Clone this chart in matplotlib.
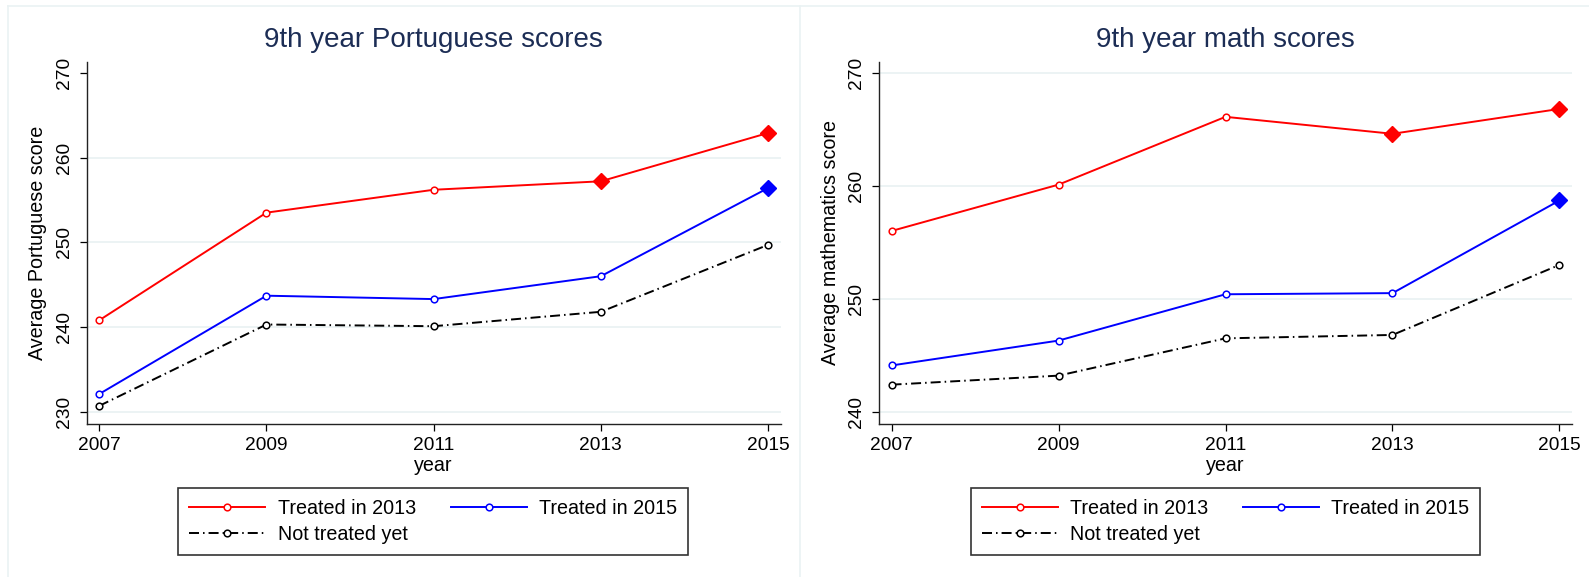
import matplotlib
matplotlib.use("Agg")
import matplotlib.pyplot as plt
from matplotlib.lines import Line2D
import numpy as np

plt.rcParams['font.family'] = ['Liberation Sans', 'DejaVu Sans']
plt.rcParams['lines.scale_dashes'] = False

# ---- data -------------------------------------------------------------
years = [2007, 2009, 2011, 2013, 2015]

port_treated_2013 = [240.8, 253.5, 256.2, 257.2, 262.9]
port_treated_2015 = [232.1, 243.7, 243.3, 246.0, 256.4]
port_not_treated = [230.7, 240.3, 240.1, 241.8, 249.7]

math_treated_2013 = [256.0, 260.1, 266.1, 264.6, 266.8]
math_treated_2015 = [244.1, 246.3, 250.4, 250.5, 258.7]
math_not_treated = [242.4, 243.2, 246.5, 246.8, 253.0]

treatment_year_a = 2013
treatment_year_b = 2015

series_labels = ["Treated in 2013", "Treated in 2015", "Not treated yet"]
panel_titles = ["9th year Portuguese scores", "9th year math scores"]
y_labels = ["Average Portuguese score", "Average mathematics score"]
port_yticks = [230, 240, 250, 260, 270]
math_yticks = [240, 250, 260, 270]

# ---- styling -----------------------------------------------------------
W, H = 1589, 577
TITLE_COLOR = "#1C2D55"
GRID_COLOR = "#EAF2F3"
DASHDOT = (0, (7.2, 2.9, 1.1, 2.9))

fig = plt.figure(figsize=(W / 100, H / 100), dpi=100)
fig.patch.set_facecolor("white")

# faint panel frames
for x in (8, 800):
    fig.add_artist(Line2D([x / W, x / W], [0, 1 - 6 / H], transform=fig.transFigure,
                          color=GRID_COLOR, lw=1.2))
fig.add_artist(Line2D([8 / W, 1], [1 - 6 / H, 1 - 6 / H], transform=fig.transFigure,
                      color=GRID_COLOR, lw=1.2))


def px_axes(x0, x1, y0, y1):
    return fig.add_axes([x0 / W, 1 - y1 / H, (x1 - x0) / W, (y1 - y0) / H])


def draw_panel(ax, title, ylabel, s13, s15, sn, yticks, ylim, grid_ticks, legend_cx):
    yrs = np.array(years)
    s13 = np.array(s13)
    s15 = np.array(s15)
    sn = np.array(sn)

    for t in grid_ticks:
        ax.axhline(t, color=GRID_COLOR, lw=1.3, zorder=0)

    common = dict(lw=1.4, marker="o", ms=4.8, mfc="white", mew=1.1, zorder=3)
    l1, = ax.plot(yrs, s13, color="red", mec="red", label=series_labels[0], **common)
    l2, = ax.plot(yrs, s15, color="blue", mec="blue", label=series_labels[1], **common)
    l3, = ax.plot(yrs, sn, color="black", mec="black", ls=DASHDOT,
                  label=series_labels[2], **common)

    m13 = yrs >= treatment_year_a
    m15 = yrs >= treatment_year_b
    ax.plot(yrs[m13], s13[m13], ls="none", marker="D", ms=7.8, color="red", zorder=4)
    ax.plot(yrs[m15], s15[m15], ls="none", marker="D", ms=7.8, color="blue", zorder=4)

    ax.set_xlim(2006.85, 2015.15)
    ax.set_ylim(*ylim)
    ax.set_xticks(years)
    ax.set_yticks(yticks)
    ax.set_yticklabels([str(t) for t in yticks], rotation=90, va="center")
    ax.tick_params(axis="both", direction="out", length=5, width=0.9, labelsize=13.8,
                   colors="black")
    ax.tick_params(axis="x", pad=4.5)
    ax.tick_params(axis="y", pad=5)

    for side in ("top", "right"):
        ax.spines[side].set_visible(False)
    for side in ("left", "bottom"):
        ax.spines[side].set_linewidth(1.0)
        ax.spines[side].set_color("#222222")

    ax.set_title(title, fontsize=20, color=TITLE_COLOR, pad=10.5)
    ax.set_xlabel("year", fontsize=14.2, labelpad=1.5)
    ax.set_ylabel(ylabel, fontsize=14.2, labelpad=6)

    # column-major fill: first column gets entries 1 and 3, second column entry 2
    leg = fig.legend(handles=[l1, l3, l2], loc="center",
                     bbox_to_anchor=(legend_cx / W, 1 - 521.5 / H),
                     ncol=2, fontsize=14.2, frameon=True, fancybox=False,
                     edgecolor="black", borderpad=0.55, handlelength=3.86,
                     handletextpad=0.62, columnspacing=1.77, labelspacing=0.35,
                     numpoints=1, borderaxespad=0)
    leg.get_frame().set_linewidth(1.2)
    return leg


axL = px_axes(86.7, 780.6, 61.8, 424)
draw_panel(axL, panel_titles[0], y_labels[0], port_treated_2013, port_treated_2015,
           port_not_treated, port_yticks, (228.56, 271.3), [230, 240, 250, 260], 433.2)

axR = px_axes(879, 1572, 61.8, 424)
draw_panel(axR, panel_titles[1], y_labels[1], math_treated_2013, math_treated_2015,
           math_not_treated, math_yticks, (238.92, 270.97), [240, 250, 260, 270], 1225.5)

fig.savefig("out.png", dpi=100, facecolor="white")
